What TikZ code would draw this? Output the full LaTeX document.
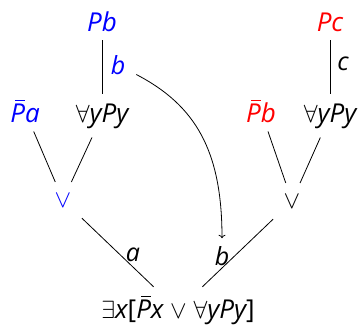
\documentclass[tikz,border=0pt]{standalone}
\usepackage{fontspec}
\setmainfont{Open Sans}
\usetikzlibrary{arrows.meta}
\definecolor{pblue}{RGB}{0,0,255}
\definecolor{pred}{RGB}{255,0,0}
\newcommand{\nbar}[1]{\leavevmode\rlap{\hspace{0.2em}\raisebox{0.8em}{\rule{0.36em}{0.045em}}}#1}
\begin{document}
\begin{tikzpicture}[x=1pt,y=-1pt,
  f/.style={font=\fontsize{26}{30}\selectfont\itshape, inner sep=9pt, anchor=base},
  orn/.style={font=\fontsize{24}{28}\selectfont, inner sep=11pt, anchor=base},
  lab/.style={font=\fontsize{25}{28}\selectfont\itshape, inner sep=2pt},
  edge/.style={draw, line width=0.8pt}]
\useasboundingbox (0,0) rectangle (361,330);
% left branch
\node[f,pblue] (pb) at (102,31) {Pb};
\node[f] (fl) at (102,122) {$\forall$yPy};
\node[f,pblue] (pa) at (25,122) {\nbar{P}a};
\node[orn,pblue] (orl) at (63,207) {$\vee$};
\node[lab,pblue] (lbb) at (118,65) {b};
% right branch
\node[f,pred] (pc) at (330,31) {Pc};
\node[f] (fr) at (330,122) {$\forall$yPy};
\node[f,pred] (pbb) at (261,122) {\nbar{P}b};
\node[orn] (orr) at (292,208) {$\vee$};
\node[lab] (lc) at (343,64) {c};
% root
\node[f] (root) at (178,318) {$\exists$x\upshape[\itshape\nbar{P}x $\vee$ $\forall$yPy\upshape]};
\node[lab] (la) at (133,255) {a};
\node[lab] (lb) at (222,256) {b};
% edges
\draw[edge] (pb) -- (fl);
\draw[edge] (pc) -- (fr);
\draw[edge] (pa) -- (orl);
\draw[edge] (fl) -- (orl);
\draw[edge] (pbb) -- (orr);
\draw[edge] (fr) -- (orr);
\draw[edge] (orl) -- (root);
\draw[edge] (orr) -- (root);
\draw[edge,->,shorten <=10pt,shorten >=6pt] (lbb) .. controls (195,105) and (222,150) .. (lb);
\end{tikzpicture}
\end{document}
